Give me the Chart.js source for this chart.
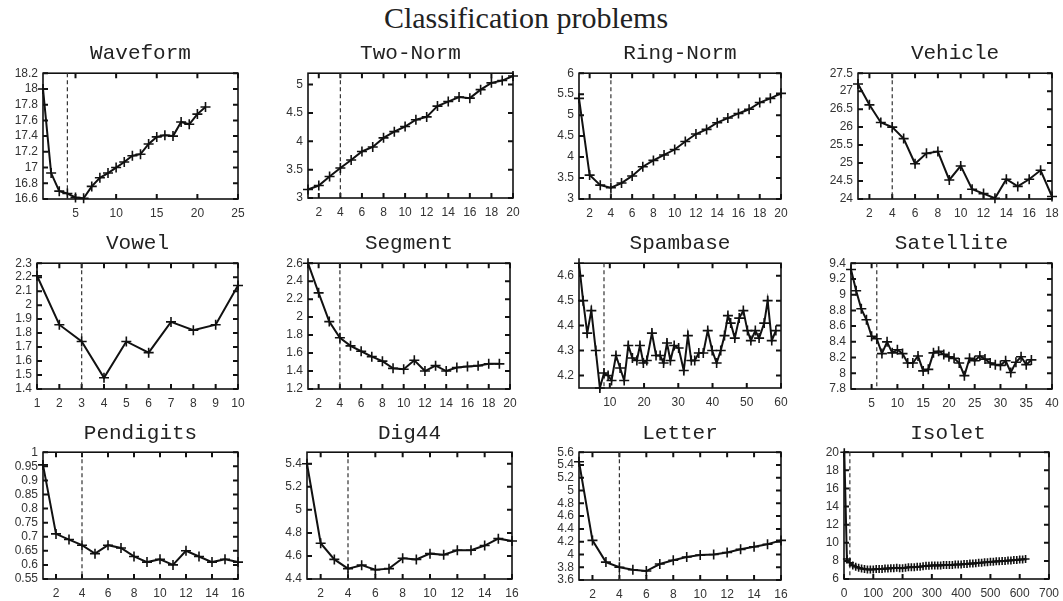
<!DOCTYPE html>
<html><head><meta charset="utf-8">
<script src="https://cdn.jsdelivr.net/npm/chart.js@4"></script>
<style>
body{margin:0;background:#fff;width:1063px;height:601px;position:relative;overflow:hidden}
.t{position:absolute;font-family:"Liberation Mono",monospace;font-size:21px;color:#222;transform:translate(-50%,-50%);white-space:nowrap}
#main{position:absolute;left:526px;top:18px;transform:translate(-50%,-50%);font-family:"Liberation Serif",serif;font-size:30px;color:#222;white-space:nowrap}
canvas{position:absolute}
</style></head><body>
<div id="main">Classification problems</div>
<script>
// ---------- data ----------
const waveformX = [1,2,3,4,5,6,7,8,9,10,11,12,13,14,15,16,17,18,19,20,21];
const waveformY = [18.0,16.93,16.7,16.67,16.62,16.61,16.76,16.87,16.93,17.0,17.07,17.15,17.17,17.3,17.39,17.41,17.4,17.58,17.55,17.68,17.77];
const waveformXTicks = [5,10,15,20,25];
const waveformYTicks = [16.6,16.8,17,17.2,17.4,17.6,17.8,18,18.2];
const waveformDash = 4;

const twoNormX = [1,2,3,4,5,6,7,8,9,10,11,12,13,14,15,16,17,18,19,20];
const twoNormY = [3.15,3.22,3.38,3.53,3.67,3.82,3.9,4.06,4.17,4.26,4.38,4.43,4.62,4.7,4.78,4.76,4.91,5.03,5.07,5.15];
const twoNormXTicks = [2,4,6,8,10,12,14,16,18,20];
const twoNormYTicks = [3,3.5,4,4.5,5];
const twoNormDash = 4;

const ringNormX = [1,2,3,4,5,6,7,8,9,10,11,12,13,14,15,16,17,18,19,20];
const ringNormY = [5.4,3.57,3.33,3.27,3.38,3.55,3.77,3.92,4.05,4.18,4.37,4.55,4.66,4.82,4.93,5.04,5.14,5.3,5.4,5.52];
const ringNormXTicks = [2,4,6,8,10,12,14,16,18,20];
const ringNormYTicks = [3,3.5,4,4.5,5,5.5,6];
const ringNormDash = 4;

const vehicleX = [1,2,3,4,5,6,7,8,9,10,11,12,13,14,15,16,17,18];
const vehicleY = [27.2,26.62,26.13,26.0,25.68,24.98,25.27,25.32,24.53,24.92,24.27,24.15,24.02,24.55,24.35,24.55,24.8,24.07];
const vehicleXTicks = [2,4,6,8,10,12,14,16,18];
const vehicleYTicks = [24,24.5,25,25.5,26,26.5,27,27.5];
const vehicleDash = 4;

const vowelX = [1,2,3,4,5,6,7,8,9,10];
const vowelY = [2.21,1.86,1.74,1.48,1.74,1.66,1.88,1.82,1.86,2.14];
const vowelXTicks = [1,2,3,4,5,6,7,8,9,10];
const vowelYTicks = [1.4,1.5,1.6,1.7,1.8,1.9,2,2.1,2.2,2.3];
const vowelDash = 3;

const segmentX = [1,2,3,4,5,6,7,8,9,10,11,12,13,14,15,16,17,18,19];
const segmentY = [2.6,2.27,1.95,1.77,1.68,1.62,1.56,1.51,1.43,1.42,1.52,1.4,1.46,1.4,1.44,1.45,1.46,1.48,1.48];
const segmentXTicks = [2,4,6,8,10,12,14,16,18,20];
const segmentYTicks = [1.2,1.4,1.6,1.8,2,2.2,2.4,2.6];
const segmentDash = 4;

const spambaseX = [1.0,2.2,3.4,4.6,5.9,7.1,8.3,9.5,10.5,11.8,13.0,14.2,15.4,16.6,17.9,18.8,19.8,20.8,22.3,23.5,24.7,25.7,26.7,27.7,28.8,30.1,31.6,32.8,33.8,34.8,36.0,37.3,38.6,39.9,41.2,42.4,43.5,44.5,45.3,46.5,47.8,49.0,50.2,51.2,52.5,53.6,55.1,56.1,57.3,58.5];
const spambaseY = [4.65,4.5,4.37,4.46,4.3,4.15,4.21,4.2,4.18,4.28,4.23,4.18,4.32,4.27,4.26,4.32,4.25,4.26,4.37,4.28,4.28,4.25,4.33,4.26,4.32,4.31,4.22,4.36,4.26,4.26,4.29,4.29,4.38,4.3,4.25,4.3,4.36,4.44,4.41,4.35,4.43,4.46,4.38,4.34,4.38,4.35,4.41,4.5,4.34,4.38];
const spambaseXTicks = [10,20,30,40,50,60];
const spambaseYTicks = [4.2,4.3,4.4,4.5,4.6];
const spambaseDash = 8.3;

const satelliteX = [1,2,3,4,5,6,7,8,9,10,11,12,13,14,15,16,17,18,19,20,21,22,23,24,25,26,27,28,29,30,31,32,33,34,35,36];
const satelliteY = [9.32,9.05,8.82,8.68,8.47,8.44,8.25,8.4,8.26,8.3,8.25,8.13,8.13,8.22,8.03,8.05,8.26,8.28,8.24,8.21,8.19,8.13,7.97,8.19,8.16,8.22,8.18,8.13,8.11,8.1,8.16,8.01,8.14,8.21,8.11,8.17];
const satelliteXTicks = [5,10,15,20,25,30,35,40];
const satelliteYTicks = [7.8,8,8.2,8.4,8.6,8.8,9,9.2,9.4];
const satelliteDash = 6;

const pendigitsX = [1,2,3,4,5,6,7,8,9,10,11,12,13,14,15,16];
const pendigitsY = [0.955,0.71,0.69,0.67,0.64,0.67,0.66,0.63,0.61,0.62,0.6,0.65,0.63,0.61,0.62,0.61];
const pendigitsXTicks = [2,4,6,8,10,12,14,16];
const pendigitsYTicks = [0.55,0.6,0.65,0.7,0.75,0.8,0.85,0.9,0.95,1];
const pendigitsDash = 4;

const dig44X = [1,2,3,4,5,6,7,8,9,10,11,12,13,14,15,16];
const dig44Y = [5.4,4.71,4.57,4.49,4.52,4.48,4.49,4.58,4.57,4.62,4.61,4.65,4.65,4.69,4.75,4.73];
const dig44XTicks = [2,4,6,8,10,12,14,16];
const dig44YTicks = [4.4,4.6,4.8,5,5.2,5.4];
const dig44Dash = 4;

const letterX = [1,2,3,4,5,6,7,8,9,10,11,12,13,14,15,16];
const letterY = [5.45,4.22,3.88,3.8,3.76,3.74,3.85,3.91,3.96,3.99,4.0,4.03,4.08,4.12,4.16,4.22];
const letterXTicks = [2,4,6,8,10,12,14,16];
const letterYTicks = [3.6,3.8,4,4.2,4.4,4.6,4.8,5,5.2,5.4,5.6];
const letterDash = 4;

const isoletX = [1,10,20,30,40,50,60,70,80,90,100,110,120,130,140,150,160,170,180,190,200,210,220,230,240,250,260,270,280,290,300,310,320,330,340,350,360,370,380,390,400,410,420,430,440,450,460,470,480,490,500,510,520,530,540,550,560,570,580,590,600,610,620];
const isoletY = [20,8.2,7.8,7.5,7.35,7.25,7.15,7.1,7.05,7.05,7.05,7.1,7.1,7.1,7.15,7.15,7.2,7.2,7.25,7.2,7.2,7.25,7.3,7.3,7.3,7.35,7.35,7.4,7.45,7.45,7.5,7.5,7.5,7.5,7.55,7.55,7.55,7.55,7.6,7.6,7.6,7.65,7.65,7.7,7.7,7.75,7.8,7.8,7.85,7.85,7.9,7.9,7.95,7.95,8.0,8.0,8.05,8.05,8.1,8.1,8.15,8.15,8.2];
const isoletXTicks = [0,100,200,300,400,500,600,700];
const isoletYTicks = [6,8,10,12,14,16,18,20];
const isoletDash = 20;

// ---------- panels ----------
const panels = [
  {title:'Waveform', x:waveformX, y:waveformY, xr:[1,25], xt:waveformXTicks, yr:[16.6,18.2], yt:waveformYTicks, dash:waveformDash},
  {title:'Two-Norm', x:twoNormX, y:twoNormY, xr:[1,20], xt:twoNormXTicks, yr:[3,5.2], yt:twoNormYTicks, dash:twoNormDash},
  {title:'Ring-Norm', x:ringNormX, y:ringNormY, xr:[1,20], xt:ringNormXTicks, yr:[3,6], yt:ringNormYTicks, dash:ringNormDash},
  {title:'Vehicle', x:vehicleX, y:vehicleY, xr:[1,18], xt:vehicleXTicks, yr:[24,27.5], yt:vehicleYTicks, dash:vehicleDash},
  {title:'Vowel', x:vowelX, y:vowelY, xr:[1,10], xt:vowelXTicks, yr:[1.4,2.3], yt:vowelYTicks, dash:vowelDash},
  {title:'Segment', x:segmentX, y:segmentY, xr:[1,20], xt:segmentXTicks, yr:[1.2,2.6], yt:segmentYTicks, dash:segmentDash},
  {title:'Spambase', x:spambaseX, y:spambaseY, xr:[1,60], xt:spambaseXTicks, yr:[4.15,4.65], yt:spambaseYTicks, dash:spambaseDash},
  {title:'Satellite', x:satelliteX, y:satelliteY, xr:[1,40], xt:satelliteXTicks, yr:[7.8,9.4], yt:satelliteYTicks, dash:satelliteDash},
  {title:'Pendigits', x:pendigitsX, y:pendigitsY, xr:[1,16], xt:pendigitsXTicks, yr:[0.55,1], yt:pendigitsYTicks, dash:pendigitsDash},
  {title:'Dig44', x:dig44X, y:dig44Y, xr:[1,16], xt:dig44XTicks, yr:[4.4,5.5], yt:dig44YTicks, dash:dig44Dash},
  {title:'Letter', x:letterX, y:letterY, xr:[1,16], xt:letterXTicks, yr:[3.6,5.6], yt:letterYTicks, dash:letterDash},
  {title:'Isolet', x:isoletX, y:isoletY, xr:[0,700], xt:isoletXTicks, yr:[6,20], yt:isoletYTicks, dash:isoletDash, small:true}
];

// plot-area boxes [left, top, right, bottom] in page pixels
const boxes = [
  [43,69,238,199],[308,69,513,198],[579,69,781,199],[858,69,1052,199],
  [37,259,238,389],[308,259,510,389],[579,259,781,388],[851,259,1052,389],
  [43,448,238,579],[307,448,512,579],[579,448,781,580],[844,448,1052,579]
];
const titleY = [53,53,53,53,243,243,243,243,433,433,433,433];

const PADL = 45, PADT = 8, PADR = 14, PADB = 24;

const framePlugin = {
  id:'frame',
  beforeDatasetsDraw(chart, args, opts){
    const {ctx, chartArea:a} = chart;
    const xs = chart.scales.x, ys = chart.scales.y;
    ctx.save();
    ctx.strokeStyle = '#111';
    ctx.lineWidth = 1.6;
    ctx.strokeRect(a.left, a.top, a.right - a.left, a.bottom - a.top);
    ctx.lineWidth = 2;
    const L = 5;
    ctx.beginPath();
    xs.ticks.forEach(t => {
      const p = xs.getPixelForValue(t.value);
      ctx.moveTo(p, a.bottom); ctx.lineTo(p, a.bottom - L);
      ctx.moveTo(p, a.top); ctx.lineTo(p, a.top + L);
    });
    ys.ticks.forEach(t => {
      const p = ys.getPixelForValue(t.value);
      ctx.moveTo(a.left, p); ctx.lineTo(a.left + L, p);
      ctx.moveTo(a.right, p); ctx.lineTo(a.right - L, p);
    });
    ctx.stroke();
    if (opts && opts.dash != null) {
      const p = xs.getPixelForValue(opts.dash);
      ctx.setLineDash([4,3]);
      ctx.lineWidth = 1.2;
      ctx.strokeStyle = '#333';
      ctx.beginPath();
      ctx.moveTo(p, a.top); ctx.lineTo(p, a.bottom);
      ctx.stroke();
    }
    ctx.restore();
  }
};

function fmt(v){ return String(+(+v).toFixed(2)); }

panels.forEach((pn, i) => {
  const [l,t,r,b] = boxes[i];
  const w = (r - l) + PADL + PADR, h = (b - t) + PADT + PADB;
  const cv = document.createElement('canvas');
  cv.style.left = (l - PADL) + 'px';
  cv.style.top = (t - PADT) + 'px';
  cv.style.width = w + 'px';
  cv.style.height = h + 'px';
  cv.width = w; cv.height = h;
  document.body.appendChild(cv);

  const tt = document.createElement('div');
  tt.className = 't';
  tt.textContent = pn.title;
  tt.style.left = ((l + r) / 2) + 'px';
  tt.style.top = titleY[i] + 'px';
  document.body.appendChild(tt);

  const pts = pn.x.map((xv, k) => ({x: xv, y: pn.y[k]}));
  const tickFont = {family:'"Liberation Sans", Arial, sans-serif', size:12};
  new Chart(cv, {
    type:'line',
    data:{datasets:[{
      data: pts,
      borderColor:'#111', backgroundColor:'#111',
      borderWidth:2, tension:0,
      pointStyle:'cross',
      pointRadius: pn.small ? 4 : 5,
      pointBorderWidth: 1.6,
      pointBorderColor:'#111',
      clip:false
    }]},
    options:{
      responsive:false, animation:false, devicePixelRatio:1,
      layout:{padding:{left:0, top:PADT, right:PADR, bottom:0}},
      plugins:{legend:{display:false}, tooltip:{enabled:false}, frame:{dash:pn.dash}},
      scales:{
        x:{type:'linear', min:pn.xr[0], max:pn.xr[1],
          grid:{display:false, drawTicks:false}, border:{display:false},
          afterBuildTicks:(s)=>{ s.ticks = pn.xt.map(v=>({value:v})); },
          afterFit:(s)=>{ s.height = PADB; },
          ticks:{autoSkip:false, maxRotation:0, minRotation:0, padding:7, color:'#333', font:tickFont, callback:fmt}
        },
        y:{type:'linear', min:pn.yr[0], max:pn.yr[1],
          grid:{display:false, drawTicks:false}, border:{display:false},
          afterBuildTicks:(s)=>{ s.ticks = pn.yt.map(v=>({value:v})); },
          afterFit:(s)=>{ s.width = PADL; },
          ticks:{autoSkip:false, padding:5, color:'#333', font:tickFont, callback:fmt}
        }
      }
    },
    plugins:[framePlugin]
  });
});
</script>
</body></html>
